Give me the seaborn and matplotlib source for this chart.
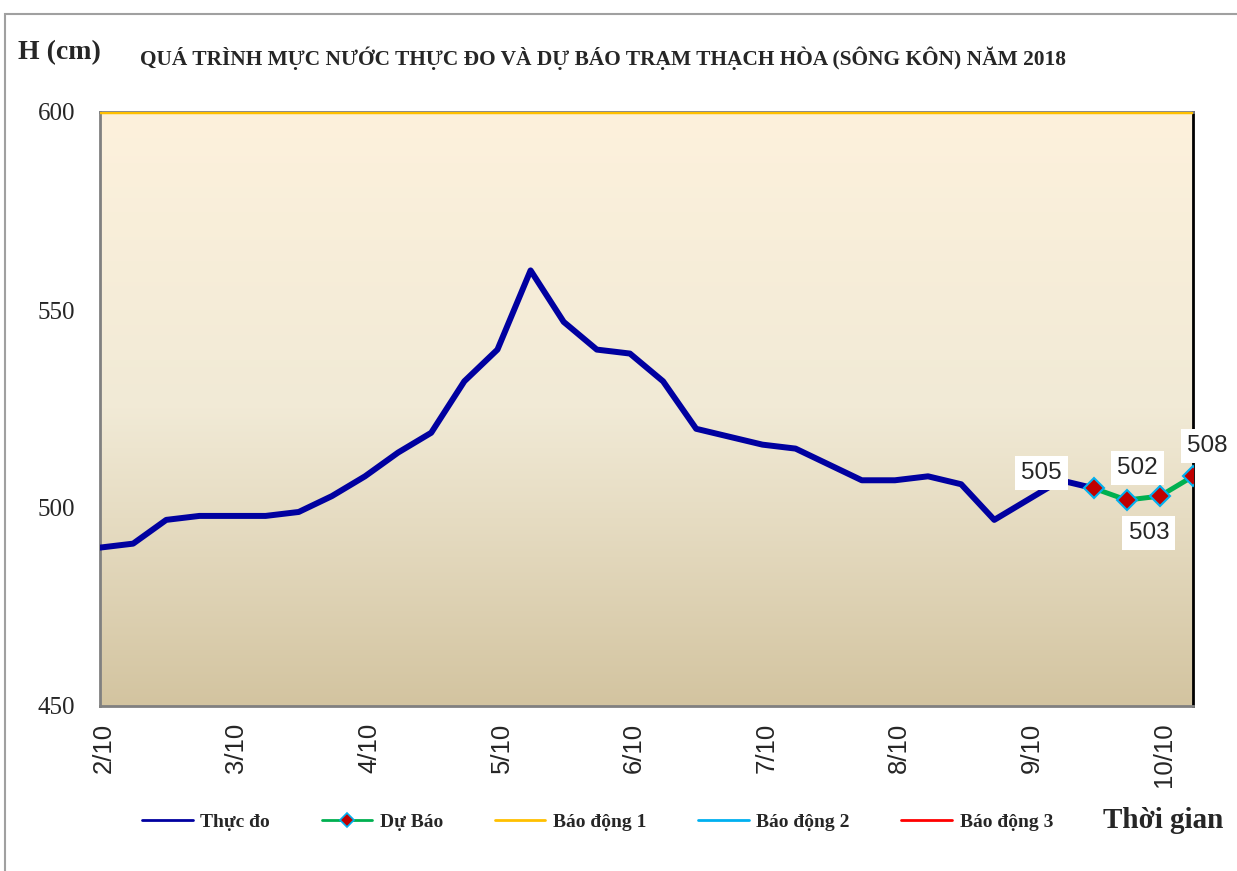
import numpy as np
import pandas as pd
import matplotlib
matplotlib.use('Agg')
import matplotlib.pyplot as plt
import matplotlib.transforms as mtrans
from matplotlib.patches import Rectangle
from matplotlib.lines import Line2D
import seaborn as sns

# mực nước thực đo, mỗi 6 giờ từ 2/10
thuc_do = [490, 491, 497, 498, 498, 498, 499, 503, 508, 514, 519, 532, 540, 560, 547, 540,
           539, 532, 520, 518, 516, 515, 511, 507, 507, 508, 506, 497, 502, 507, 505]
# dự báo (bắt đầu từ điểm cuối thực đo)
du_bao = [505, 502, 503, 508]
bao_dong = {'Báo động 1': 600, 'Báo động 2': 700, 'Báo động 3': 800}
ngay = ['2/10', '3/10', '4/10', '5/10', '6/10', '7/10', '8/10', '9/10', '10/10']

n_td = len(thuc_do)
df_td = pd.DataFrame({'t': range(n_td), 'h': thuc_do})
df_db = pd.DataFrame({'t': range(n_td - 1, n_td - 1 + len(du_bao)), 'h': du_bao})
t_max = df_db['t'].max()

sns.set_style('white')
fig = plt.figure(figsize=(12.37, 8.71), dpi=100)
ax = fig.add_axes([100 / 1237, 1 - 706 / 871, 1093 / 1237, 594 / 871])

# khung viền ngoài
fig.patches.append(Rectangle((5 / 1237, -0.1), 1.2, 1 - 14 / 871 + 0.1, transform=fig.transFigure,
                             fill=False, edgecolor='#a0a0a0', linewidth=1.5))

# nền gradient
grad = np.linspace(0, 1, 256).reshape(-1, 1)
cmap = matplotlib.colors.LinearSegmentedColormap.from_list('bg', ['#fdf1dc', '#f1ead6', '#d3c4a0'])
ax.imshow(grad, aspect='auto', cmap=cmap, extent=[0, 1, 0, 1], transform=ax.transAxes, zorder=0)

mau_bd = {'Báo động 1': '#ffc000', 'Báo động 2': '#00b0f0', 'Báo động 3': '#ff0000'}
for ten, muc in bao_dong.items():
    sns.lineplot(x=[0, t_max], y=[muc, muc], color=mau_bd[ten], linewidth=2.5, ax=ax, zorder=3)

sns.lineplot(data=df_td, x='t', y='h', color='#0000a0', linewidth=4.3, ax=ax, zorder=4,
             solid_joinstyle='round', solid_capstyle='round')
sns.lineplot(data=df_db, x='t', y='h', color='#00b050', linewidth=3.6, ax=ax, zorder=5,
             marker='D', markersize=10, markerfacecolor='#c00000', markeredgecolor='#00b0f0',
             markeredgewidth=1.5)

# nhãn số liệu dự báo
offsets = [(-52, 15), (11, 32), (-11, -37), (14, 30)]
for (t, h), off in zip(df_db[['t', 'h']].values, offsets):
    ax.annotate(f'{h:.0f}', (t, h), xytext=off, textcoords='offset pixels', ha='center',
                va='center', fontsize=17.5, family='Liberation Sans', zorder=6,
                annotation_clip=False,
                bbox=dict(boxstyle='square,pad=0.25', facecolor='white', edgecolor='none'))

ax.set_xlim(0, t_max)
ax.set_ylim(450, 600)
ax.set_yticks([450, 500, 550, 600])
ax.set_yticklabels(['450', '500', '550', '600'], family='Liberation Serif', fontsize=18)
ax.set_xticks(range(0, 4 * len(ngay), 4))
ax.set_xticklabels(ngay, rotation=90, family='Liberation Sans', fontsize=18.5, va='top')
ax.set_xticks(range(0, t_max + 1), minor=True)
ax.tick_params(axis='x', which='both', direction='in', length=6, width=1.5, color='#808080', pad=12)
ax.tick_params(axis='y', direction='out', length=8, width=1.5, color='#808080', pad=10)
dich = mtrans.ScaledTranslation(4 / 100, 0, fig.dpi_scale_trans)
for lb in ax.get_xticklabels():
    lb.set_transform(lb.get_transform() + dich)
ax.set_xlabel('')
ax.set_ylabel('')
for s in ['left', 'bottom', 'top']:
    ax.spines[s].set_color('#808080')
    ax.spines[s].set_linewidth(2)
ax.spines['right'].set_color('black')
ax.spines['right'].set_linewidth(2)

fig.text(18 / 1237, 1 - 53 / 871, 'H (cm)', family='Liberation Serif', fontweight='bold',
         fontsize=20, va='center', ha='left')
fig.text(140 / 1237, 1 - 58 / 871,
         'QUÁ TRÌNH MỰC NƯỚC THỰC ĐO VÀ DỰ BÁO TRẠM THẠCH HÒA (SÔNG KÔN) NĂM 2018',
         family='Liberation Serif', fontweight='bold', fontsize=15.4, va='center', ha='left')
fig.text(1103 / 1237, 1 - 820 / 871, 'Thời gian', family='Liberation Serif', fontweight='bold',
         fontsize=21, va='center', ha='left')

handles = [Line2D([], [], color='#0000a0', linewidth=2),
           Line2D([], [], color='#00b050', linewidth=2, marker='D', markersize=7,
                  markerfacecolor='#c00000', markeredgecolor='#00b0f0', markeredgewidth=1.2),
           Line2D([], [], color='#ffc000', linewidth=2),
           Line2D([], [], color='#00b0f0', linewidth=2),
           Line2D([], [], color='#ff0000', linewidth=2)]
labels = ['Thực đo', 'Dự Báo'] + list(bao_dong.keys())
fig.legend(handles, labels, loc='center left', bbox_to_anchor=(142 / 1237, 1 - 822 / 871),
           ncol=5, frameon=False, handlelength=2.6, handletextpad=0.4, columnspacing=2.65,
           borderpad=0, borderaxespad=0,
           prop={'family': 'Liberation Serif', 'weight': 'bold', 'size': 14})

fig.savefig('out.png', dpi=100)
